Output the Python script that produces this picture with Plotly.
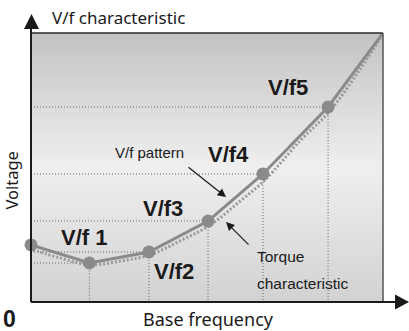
import plotly.graph_objects as go

# V/f pattern break points (frequency %, voltage %)
vf_freq = [0, 16.6, 33.5, 50.3, 65.9, 84.4, 100]
vf_volt = [21.2, 14.5, 18.6, 30.1, 47.6, 72.5, 100]
vf_names = ["V/f 1", "V/f2", "V/f3", "V/f4", "V/f5"]

# Load torque characteristic
tq_freq = [0.6, 8.2, 16.8, 25.3, 33.8, 42.3, 50.9, 59.4, 66.5, 76.4, 84.9, 93.5, 100]
tq_volt = [19.3, 16.4, 13.8, 15.2, 17.5, 22.7, 28.6, 37.5, 45.4, 59.9, 71.0, 86.6, 99.6]

# label anchor positions for each V/f point label
lab_x = [15.1, 40.6, 37.5, 56.0, 73.0]
lab_y = [23.8, 11.5, 34.9, 55.0, 79.6]

BOLD = "Liberation Sans, Arial, sans-serif"
NARROW = "Liberation Sans, Arial, sans-serif"
SANS = "Noto Sans, Open Sans, sans-serif"
INK = "#1a1a1a"

fig = go.Figure()

# gradient background of the plot area
fig.add_trace(go.Scatter(
    x=[0, 100, 100, 0, 0], y=[0, 0, 100, 100, 0],
    mode="lines", line=dict(width=0), fill="toself",
    fillgradient=dict(type="vertical", start=0, stop=100,
                      colorscale=[[0, "#d2d2d2"], [0.5, "#efefef"], [1, "#c3c3c3"]]),
    hoverinfo="skip", showlegend=False))

# dotted guide lines from each break point to the axes
guide = dict(color="#666666", width=1, dash="1px,2px")
for fx, vy in zip(vf_freq[1:-1], vf_volt[1:-1]):
    fig.add_trace(go.Scatter(x=[0, fx, fx], y=[vy, vy, 0], mode="lines",
                             line=guide, hoverinfo="skip", showlegend=False))

# torque characteristic
fig.add_trace(go.Scatter(x=tq_freq, y=tq_volt, mode="lines",
                         line=dict(color="#999999", width=3, dash="2px,2px", shape="spline"),
                         hoverinfo="skip", showlegend=False))

# V/f pattern
fig.add_trace(go.Scatter(x=vf_freq, y=vf_volt, mode="lines",
                         line=dict(color="#8a8a8a", width=3),
                         hoverinfo="skip", showlegend=False))
fig.add_trace(go.Scatter(x=vf_freq[:-1], y=vf_volt[:-1], mode="markers",
                         marker=dict(color="#8a8a8a", size=13),
                         cliponaxis=False, hoverinfo="skip", showlegend=False))

annotations = []
for name, x, y in zip(vf_names, lab_x, lab_y):
    annotations.append(dict(x=x, y=y, text=f"<b>{name}</b>", showarrow=False,
                            xanchor="center", yanchor="middle",
                            font=dict(family=BOLD, size=22, color=INK)))

annotations += [
    dict(x=55.4, y=39.0, ax=-39, ay=-31, text="", showarrow=True, arrowhead=2,
         arrowsize=1.4, arrowwidth=1.2, arrowcolor=INK, standoff=0),
    dict(x=55.4, y=29.7, ax=24, ay=24, text="", showarrow=True, arrowhead=2,
         arrowsize=1.4, arrowwidth=1.2, arrowcolor=INK, standoff=0),
    dict(x=33.8, y=55.4, text="V/f pattern", showarrow=False,
         xanchor="center", yanchor="middle",
         font=dict(family=NARROW, size=15, color=INK)),
    dict(x=63.6, y=17.0, text="Torque", showarrow=False, xanchor="left", yanchor="middle",
         font=dict(family=NARROW, size=15.5, color=INK)),
    dict(x=63.6, y=6.7, text="characteristic", showarrow=False, xanchor="left",
         yanchor="middle", font=dict(family=NARROW, size=15.5, color=INK)),
    dict(xref="paper", yref="paper", x=0.054, y=1.056, text="V/f characteristic",
         showarrow=False, xanchor="left", yanchor="middle",
         font=dict(family=SANS, size=17, color=INK)),
    dict(xref="paper", yref="paper", x=0.503, y=-0.063, text="Base frequency",
         showarrow=False, xanchor="center", yanchor="middle",
         font=dict(family=SANS, size=18, color=INK)),
    dict(xref="paper", yref="paper", x=-0.055, y=0.45, text="Voltage", textangle=-90,
         showarrow=False, xanchor="center", yanchor="middle",
         font=dict(family=SANS, size=16.5, color=INK)),
    dict(xref="paper", yref="paper", x=-0.06, y=-0.063, text="<b>0</b>",
         showarrow=False, xanchor="center", yanchor="middle",
         font=dict(family=BOLD, size=23, color=INK)),
]

W, H = 409, 331
L, R, T, B = 31, 383, 33, 302


def px(x):
    return (x - L) / (R - L)


def py(y):
    return (B - y) / (B - T)


shapes = [
    # frame: top and right edges
    dict(type="line", xref="paper", yref="paper", x0=0, y0=1, x1=1, y1=1,
         line=dict(color="#2a2a2a", width=1.5)),
    dict(type="line", xref="paper", yref="paper", x0=1, y0=0, x1=1, y1=1,
         line=dict(color="#555555", width=1.5)),
    # axes
    dict(type="line", xref="paper", yref="paper", x0=0, y0=0, x1=0, y1=py(27),
         line=dict(color=INK, width=2)),
    dict(type="line", xref="paper", yref="paper", x0=0, y0=0, x1=px(398), y1=0,
         line=dict(color=INK, width=2)),
    # arrow heads
    dict(type="path", xref="paper", yref="paper",
         path=f"M {px(24):.5f} {py(29):.5f} L {px(31.5):.5f} {py(14):.5f} "
              f"L {px(39):.5f} {py(29):.5f} Z",
         fillcolor=INK, line=dict(width=0)),
    dict(type="path", xref="paper", yref="paper",
         path=f"M {px(395):.5f} {py(294.5):.5f} L {px(409):.5f} {py(302):.5f} "
              f"L {px(395):.5f} {py(309.5):.5f} Z",
         fillcolor=INK, line=dict(width=0)),
]

fig.update_layout(
    width=W, height=H,
    margin=dict(l=L, r=W - R, t=T, b=H - B),
    paper_bgcolor="white", plot_bgcolor="rgba(0,0,0,0)",
    xaxis=dict(range=[0, 100], showgrid=False, zeroline=False, showticklabels=False,
               ticks="", showline=False, fixedrange=True),
    yaxis=dict(range=[0, 100], showgrid=False, zeroline=False, showticklabels=False,
               ticks="", showline=False, fixedrange=True),
    annotations=annotations, shapes=shapes, showlegend=False,
)

fig.write_html("out.html", config={"displayModeBar": False})
